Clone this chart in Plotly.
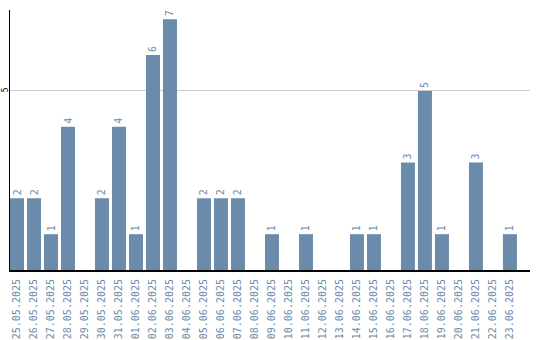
import plotly.graph_objects as go

dates = ["25.05.2025","26.05.2025","27.05.2025","28.05.2025","29.05.2025","30.05.2025",
         "31.05.2025","01.06.2025","02.06.2025","03.06.2025","04.06.2025","05.06.2025",
         "06.06.2025","07.06.2025","08.06.2025","09.06.2025","10.06.2025","11.06.2025",
         "12.06.2025","13.06.2025","14.06.2025","15.06.2025","16.06.2025","17.06.2025",
         "18.06.2025","19.06.2025","20.06.2025","21.06.2025","22.06.2025","23.06.2025"]
values = [2,2,1,4,0,2,4,1,6,7,0,2,2,2,0,1,0,1,0,0,1,1,0,3,5,1,0,3,0,1]
labels = [str(v) if v > 0 else "" for v in values]

bar_color = "#6b8bab"
mono = "DejaVu Sans Mono"

fig = go.Figure(go.Bar(
    x=dates, y=values, text=labels, textposition="outside", textangle=-90,
    textfont=dict(size=10, color=bar_color, family=mono),
    marker=dict(color=bar_color, line=dict(width=0)),
    cliponaxis=False,
))

fig.update_layout(
    width=540, height=340,
    margin=dict(l=10, r=10, t=10, b=70, autoexpand=False),
    paper_bgcolor="white", plot_bgcolor="white",
    bargap=3/17,
    showlegend=False,
    xaxis=dict(
        type="category", range=[-0.412, 30.18], automargin=False,
        tickangle=-90, tickfont=dict(size=10, color=bar_color, family=mono),
        showline=True, linecolor="black", linewidth=2, showgrid=False,
        ticks="outside", ticklen=3, tickcolor="rgba(0,0,0,0)",
    ),
    yaxis=dict(
        range=[0, 7.26], tickvals=[5], ticktext=["5"], tickangle=-90,
        automargin=False, ticklabelstandoff=-2,
        tickfont=dict(size=8, color="black", family=mono),
        showline=True, linecolor="black", linewidth=1,
        showgrid=True, gridcolor="#cccccc", gridwidth=1, zeroline=False,
        ticks="", ticklen=0,
    ),
)

fig.write_html("out.html")
